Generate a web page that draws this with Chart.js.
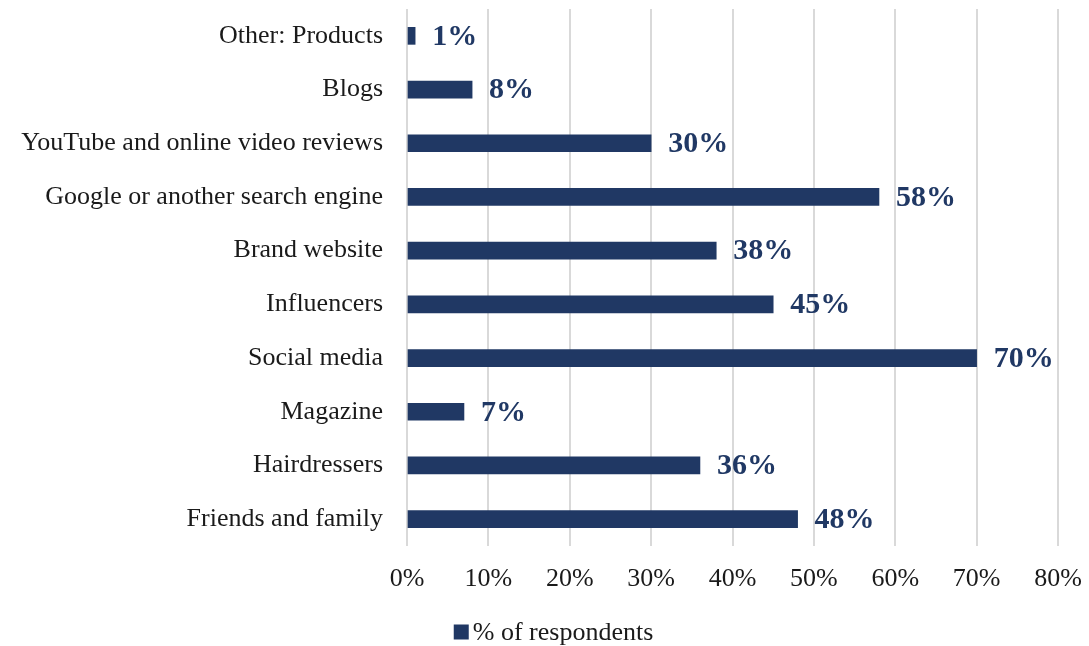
<!DOCTYPE html>
<html lang="en">
<head>
    <meta charset="UTF-8">
    <title>% of respondents</title>
    <script src="https://cdn.jsdelivr.net/npm/chart.js"></script>
    <style>
        html, body { margin: 0; padding: 0; background: #ffffff; }
        #wrap { width: 1089px; height: 646px; }
    </style>
</head>
<body>
    <div id="wrap"><canvas id="sourcesChart" width="1089" height="646"></canvas></div>

    <script>
        // Information sources, listed top to bottom
        const sources = [
            'Other: Products',
            'Blogs',
            'YouTube and online video reviews',
            'Google or another search engine',
            'Brand website',
            'Influencers',
            'Social media',
            'Magazine',
            'Hairdressers',
            'Friends and family'
        ];
        const respondents = [1, 8, 30, 58, 38, 45, 70, 7, 36, 48];
        const seriesName = '% of respondents';
        const xTicks = [0, 10, 20, 30, 40, 50, 60, 70, 80];

        const navy = '#203864';
        const textColor = '#1a1a1a';
        const serif = '"Liberation Serif", "Times New Roman", serif';

        // Bold value labels at the end of each bar
        const valueLabels = {
            id: 'valueLabels',
            afterDatasetsDraw(chart) {
                const ctx = chart.ctx;
                const meta = chart.getDatasetMeta(0);
                ctx.save();
                ctx.font = 'bold 30px ' + serif;
                ctx.fillStyle = navy;
                ctx.textAlign = 'left';
                ctx.textBaseline = 'middle';
                meta.data.forEach((bar, i) => {
                    ctx.fillText(respondents[i] + '%', bar.x + 17, bar.y + 1);
                });
                ctx.restore();
            }
        };

        // Single-entry legend under the x axis
        const bottomLegend = {
            id: 'bottomLegend',
            afterDraw(chart) {
                const ctx = chart.ctx;
                const ds = chart.data.datasets[0];
                ctx.save();
                ctx.font = '26px ' + serif;
                const box = 15, gap = 4;
                const w = box + gap + ctx.measureText(ds.label).width;
                const x0 = chart.width / 2 + 9 - w / 2;
                const yc = chart.height - 14;
                ctx.fillStyle = ds.backgroundColor;
                ctx.fillRect(x0, yc - box / 2, box, box);
                ctx.fillStyle = textColor;
                ctx.textAlign = 'left';
                ctx.textBaseline = 'middle';
                ctx.fillText(ds.label, x0 + box + gap, yc + 1);
                ctx.restore();
            }
        };

        new Chart(document.getElementById('sourcesChart'), {
            type: 'bar',
            data: {
                labels: sources,
                datasets: [{
                    label: seriesName,
                    data: respondents,
                    backgroundColor: navy,
                    barThickness: 17
                }]
            },
            options: {
                indexAxis: 'y',
                responsive: false,
                animation: false,
                layout: { padding: { left: 0, right: 31, top: 9, bottom: 51 } },
                scales: {
                    x: {
                        min: 0,
                        max: 80,
                        afterBuildTicks(scale) {
                            scale.ticks = xTicks.map(v => ({ value: v }));
                        },
                        afterFit(scale) {
                            scale.height = 49;
                            scale.paddingLeft = 0;
                            scale.paddingRight = 0;
                        },
                        ticks: {
                            callback: v => v + '%',
                            font: { family: serif, size: 26 },
                            color: textColor,
                            padding: 18,
                            maxRotation: 0
                        },
                        grid: { color: '#d9d9d9', lineWidth: 2, drawTicks: false },
                        border: { display: false }
                    },
                    y: {
                        afterFit(scale) {
                            scale.width = 407;
                            scale.paddingTop = 0;
                            scale.paddingBottom = 0;
                        },
                        ticks: {
                            font: { family: serif, size: 26 },
                            color: textColor,
                            padding: 24
                        },
                        grid: { display: false, drawTicks: false },
                        border: { display: false }
                    }
                },
                plugins: {
                    legend: { display: false },
                    tooltip: { enabled: false }
                }
            },
            plugins: [valueLabels, bottomLegend]
        });
    </script>
</body>
</html>
